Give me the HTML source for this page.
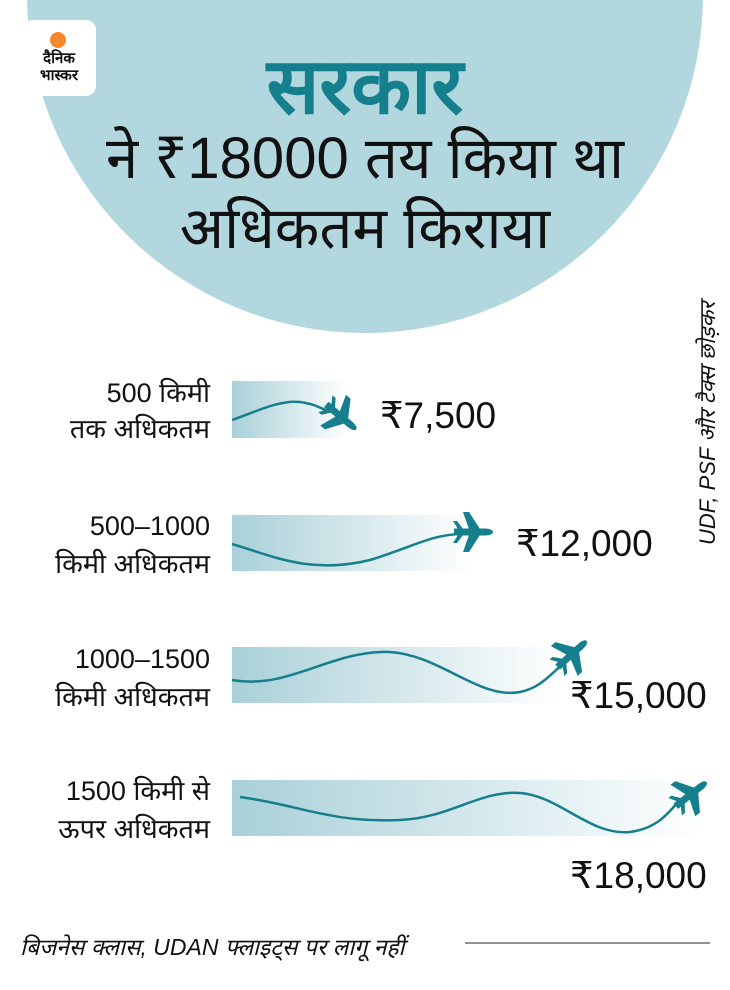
<!DOCTYPE html>
<html><head><meta charset="utf-8"><style>
body{margin:0;width:730px;height:990px;background:#fff;overflow:hidden;position:relative;font-family:"Liberation Sans","Noto Sans CJK SC",sans-serif}
.t{position:absolute;font-family:"Liberation Sans","Noto Sans CJK SC",sans-serif;white-space:nowrap}
</style></head><body>
<svg width="730" height="990" style="position:absolute;left:0;top:0">
<defs>
<linearGradient id="g" x1="0" x2="1"><stop offset="0" stop-color="#a9d0d8"/><stop offset="1" stop-color="#ffffff"/></linearGradient>
<g id="p" fill="#167f8d">
<path d="M-18,-3.5 L13,-3.5 Q21,-3 21,0 Q21,3 13,3.5 L-18,3.5 Z"/>
<path d="M-3,-3 L-9,-20 L-3,-20 L8,-3 Z"/><path d="M-3,3 L-9,20 L-3,20 L8,3 Z"/>
<path d="M-14,-3 L-19,-11 L-15,-11 L-9,-3 Z"/><path d="M-14,3 L-19,11 L-15,11 L-9,3 Z"/>
</g>
</defs>
<circle cx="365" cy="-5" r="338" fill="#b2d7de"/>
<rect x="22" y="20" width="74" height="76" rx="10" fill="#fff"/>
<circle cx="58" cy="40" r="8" fill="#f5882a"/>
<rect x="232" y="381" width="115" height="57" fill="url(#g)"/>
<rect x="232" y="515" width="240" height="56" fill="url(#g)"/>
<rect x="232" y="647" width="330" height="56" fill="url(#g)"/>
<rect x="232" y="780" width="470" height="56" fill="url(#g)"/>
<g fill="none" stroke="#167f8d" stroke-width="2.5">
<path d="M232,420 C260,410 280,400 300,402 C315,404 320,408 330,412"/>
<path d="M232,544 C270,555 310,575 370,560 C410,548 430,535 460,534"/>
<path d="M232,680 C290,690 330,650 390,652 C440,655 480,700 520,692 C540,688 550,675 565,662"/>
<path d="M240,797 C300,805 330,823 400,820 C450,818 480,790 520,793 C560,796 590,836 630,832 C660,828 670,810 680,800"/>
</g>
<use href="#p" transform="translate(340,416) rotate(40)"/>
<use href="#p" transform="translate(472,532) rotate(0)"/>
<use href="#p" transform="translate(571,655) rotate(-42)"/>
<use href="#p" transform="translate(690,795) rotate(-38)"/>
<line x1="465" y1="943" x2="710" y2="943" stroke="#222" stroke-width="1"/>
</svg>
<div class="t" style="left:22px;top:50px;width:74px;text-align:center;font-size:15px;font-weight:bold;line-height:17px;color:#111">दैनिक<br>भास्कर</div>
<div class="t" style="left:0;top:38px;width:730px;text-align:center;font-size:78px;font-weight:bold;color:#167f8d;line-height:96px">सरकार</div>
<div class="t" style="left:0;top:124px;width:730px;text-align:center;font-size:58px;color:#111;line-height:70px">ने ₹18000 तय किया था<br>अधिकतम किराया</div>
<div class="t" style="left:10px;top:375px;width:200px;text-align:right;font-size:27px;line-height:36px;color:#111">500 किमी<br>तक अधिकतम</div>
<div class="t" style="left:10px;top:507px;width:200px;text-align:right;font-size:27px;line-height:38px;color:#111">500–1000<br>किमी अधिकतम</div>
<div class="t" style="left:10px;top:640px;width:200px;text-align:right;font-size:27px;line-height:38px;color:#111">1000–1500<br>किमी अधिकतम</div>
<div class="t" style="left:10px;top:772px;width:200px;text-align:right;font-size:27px;line-height:38px;color:#111">1500 किमी से<br>ऊपर अधिकतम</div>
<div class="t" style="left:380px;top:394px;font-size:37px;color:#111">₹7,500</div>
<div class="t" style="left:516px;top:522px;font-size:37px;color:#111">₹12,000</div>
<div class="t" style="left:570px;top:674px;font-size:37px;color:#111">₹15,000</div>
<div class="t" style="left:570px;top:854px;font-size:37px;color:#111">₹18,000</div>
<div class="t" style="left:692px;top:545px;transform:rotate(-90deg);transform-origin:0 0;font-size:22px;font-style:italic;color:#111">UDF, PSF और टैक्स छोड़कर</div>
<div class="t" style="left:20px;top:930px;font-size:23px;font-style:italic;color:#111">बिजनेस क्लास, UDAN फ्लाइट्स पर लागू नहीं</div>
</body></html>
